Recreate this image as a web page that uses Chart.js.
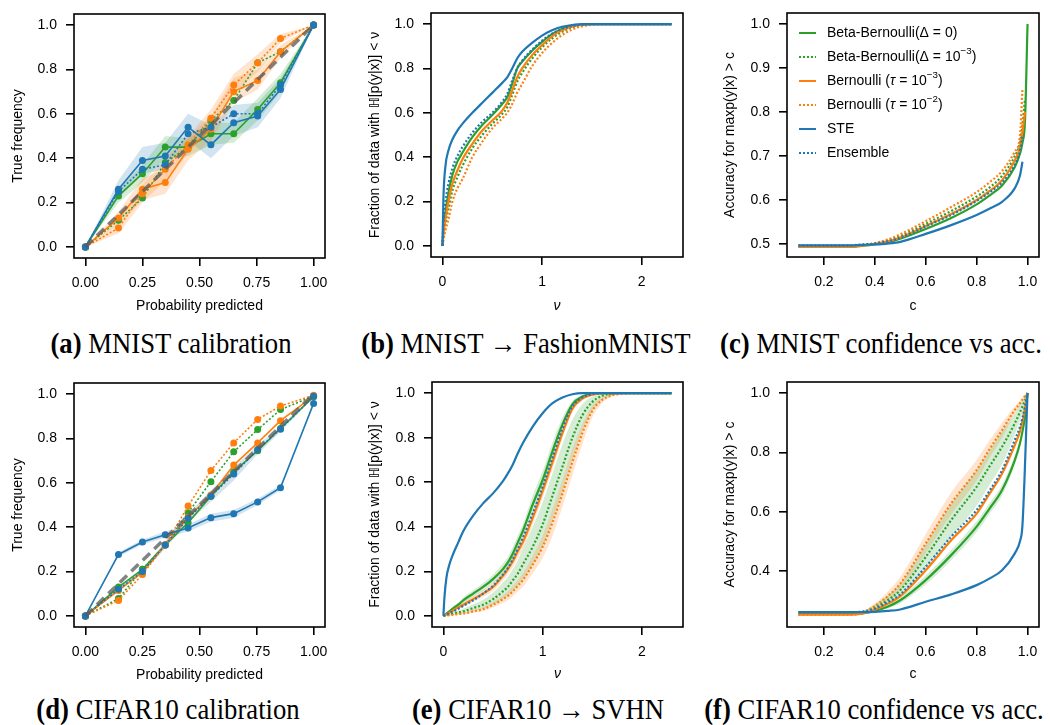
<!DOCTYPE html>
<html>
<head>
<meta charset="utf-8">
<script src="https://cdn.jsdelivr.net/npm/chart.js@4.4.1/dist/chart.umd.min.js"></script>
<style>
  html, body { margin: 0; padding: 0; background: #fff; }
  body { width: 1050px; height: 725px; position: relative; overflow: hidden; }
  .panel { position: absolute; }
  .caption {
    position: absolute; transform: translateX(-50%) scaleX(0.92); white-space: nowrap;
    font-family: 'Liberation Serif', 'Times New Roman', serif; font-size: 29px; line-height: 30px; color: #000;
  }
</style>
</head>
<body>
<div class="panel" id="p-a"><canvas id="c-a"></canvas></div>
<div class="panel" id="p-b"><canvas id="c-b"></canvas></div>
<div class="panel" id="p-c"><canvas id="c-c"></canvas></div>
<div class="panel" id="p-d"><canvas id="c-d"></canvas></div>
<div class="panel" id="p-e"><canvas id="c-e"></canvas></div>
<div class="panel" id="p-f"><canvas id="c-f"></canvas></div>

<div class="caption" style="left:171px; top:328px"><b>(a)</b> MNIST calibration</div>
<div class="caption" style="left:526px; top:328px"><b>(b)</b> MNIST → FashionMNIST</div>
<div class="caption" style="left:881px; top:328px"><b>(c)</b> MNIST confidence vs acc.</div>
<div class="caption" style="left:168px; top:694px"><b>(d)</b> CIFAR10 calibration</div>
<div class="caption" style="left:538px; top:694px"><b>(e)</b> CIFAR10 → SVHN</div>
<div class="caption" style="left:874px; top:694px"><b>(f)</b> CIFAR10 confidence vs acc.</div>

<script>
const BLUE = '#1f77b4';
const ORANGE = '#ff7f0e';
const GREEN = '#2ca02c';

// ---- reliability diagrams: bin centres and true frequency per bin ----
const calBins = [0, 0.145, 0.25, 0.35, 0.45, 0.55, 0.65, 0.755, 0.855, 1.0];
const diagX = [0, 1];
const diagY = [0, 1];

const mnistCalBB0 = [0, 0.23, 0.33, 0.45, 0.45, 0.51, 0.51, 0.62, 0.74, 1.0];
const mnistCalBB3 = [0, 0.12, 0.22, 0.38, 0.45, 0.57, 0.66, 0.83, 0.88, 1.0];
const mnistCalB3 = [0, 0.13, 0.26, 0.29, 0.44, 0.53, 0.70, 0.75, 0.88, 1.0];
const mnistCalB2 = [0, 0.085, 0.24, 0.35, 0.46, 0.58, 0.73, 0.83, 0.94, 1.0];
const mnistCalSTE = [0, 0.26, 0.39, 0.41, 0.54, 0.46, 0.56, 0.59, 0.71, 1.0];
const mnistCalEns = [0, 0.25, 0.35, 0.37, 0.51, 0.54, 0.60, 0.60, 0.73, 1.0];
const mnistCalSTELo = [0, 0.22, 0.33, 0.35, 0.48, 0.40, 0.50, 0.54, 0.67, 1.0];
const mnistCalSTEHi = [0, 0.30, 0.45, 0.47, 0.60, 0.55, 0.64, 0.65, 0.76, 1.0];
const mnistCalBB0Lo = [0, 0.20, 0.29, 0.40, 0.41, 0.46, 0.47, 0.57, 0.70, 1.0];
const mnistCalBB0Hi = [0, 0.26, 0.37, 0.50, 0.49, 0.56, 0.56, 0.67, 0.78, 1.0];
const mnistCalB3Lo = [0, 0.10, 0.21, 0.24, 0.39, 0.48, 0.65, 0.71, 0.85, 1.0];
const mnistCalB3Hi = [0, 0.16, 0.31, 0.35, 0.49, 0.59, 0.76, 0.80, 0.91, 1.0];
const mnistCalB2Lo = [0, 0.06, 0.20, 0.30, 0.42, 0.54, 0.69, 0.79, 0.92, 1.0];
const mnistCalB2Hi = [0, 0.11, 0.28, 0.40, 0.50, 0.62, 0.78, 0.87, 0.96, 1.0];

const cifarCalBB0 = [0, 0.13, 0.21, 0.32, 0.42, 0.54, 0.65, 0.745, 0.845, 0.988];
const cifarCalBB3 = [0, 0.078, 0.21, 0.32, 0.465, 0.605, 0.74, 0.84, 0.93, 0.991];
const cifarCalB3 = [0, 0.115, 0.197, 0.32, 0.445, 0.545, 0.68, 0.78, 0.88, 0.991];
const cifarCalB2 = [0, 0.07, 0.187, 0.32, 0.495, 0.655, 0.78, 0.886, 0.946, 0.995];
const cifarCalSTE = [0, 0.277, 0.333, 0.366, 0.396, 0.443, 0.461, 0.514, 0.578, 0.958];
const cifarCalEns = [0, 0.12, 0.2, 0.32, 0.44, 0.54, 0.64, 0.75, 0.842, 0.99];
const cifarCalSTELo = [0, 0.268, 0.322, 0.352, 0.38, 0.425, 0.443, 0.5, 0.566, 0.955];
const cifarCalSTEHi = [0, 0.286, 0.344, 0.38, 0.412, 0.461, 0.479, 0.528, 0.59, 0.961];
const cifarCalEnsLo = [0, 0.11, 0.19, 0.305, 0.42, 0.515, 0.61, 0.73, 0.83, 0.985];
const cifarCalEnsHi = [0, 0.13, 0.21, 0.335, 0.46, 0.565, 0.67, 0.77, 0.855, 0.995];

// ---- entropy CDFs on out-of-distribution data ----
const nuGrid = [0, 0.01, 0.03, 0.06, 0.1, 0.15, 0.2, 0.3, 0.4, 0.5, 0.6, 0.65, 0.7, 0.75, 0.8,
  0.9, 1.0, 1.1, 1.2, 1.3, 1.4, 1.5, 1.6, 1.7, 1.8, 1.9, 2.0, 2.3];

const mnistOodBB0 = [0, 0.07, 0.15, 0.24, 0.32, 0.38, 0.42, 0.49, 0.545, 0.59, 0.64, 0.67, 0.73, 0.8, 0.83,
  0.88, 0.92, 0.955, 0.978, 0.992, 0.998, 1, 1, 1, 1, 1, 1, 1];
const mnistOodBB3 = [0, 0.04, 0.1, 0.17, 0.25, 0.31, 0.36, 0.44, 0.5, 0.55, 0.595, 0.625, 0.68, 0.74, 0.78,
  0.845, 0.895, 0.935, 0.965, 0.985, 0.995, 1, 1, 1, 1, 1, 1, 1];
const mnistOodB3 = [0, 0.05, 0.12, 0.2, 0.28, 0.34, 0.39, 0.46, 0.52, 0.565, 0.61, 0.645, 0.7, 0.76, 0.8,
  0.86, 0.905, 0.945, 0.972, 0.988, 0.997, 1, 1, 1, 1, 1, 1, 1];
const mnistOodB2 = [0, 0.03, 0.07, 0.12, 0.2, 0.26, 0.3, 0.4, 0.47, 0.53, 0.575, 0.6, 0.64, 0.69, 0.73,
  0.81, 0.87, 0.915, 0.95, 0.975, 0.99, 0.997, 1, 1, 1, 1, 1, 1];
const mnistOodSTE = [0, 0.22, 0.36, 0.43, 0.48, 0.52, 0.55, 0.60, 0.645, 0.69, 0.735, 0.76, 0.80, 0.845, 0.875,
  0.915, 0.948, 0.972, 0.988, 0.996, 1, 1, 1, 1, 1, 1, 1, 1];
const mnistOodEns = [0, 0.1, 0.2, 0.28, 0.35, 0.405, 0.445, 0.51, 0.56, 0.6, 0.65, 0.685, 0.745, 0.8, 0.835,
  0.885, 0.925, 0.957, 0.978, 0.991, 0.997, 1, 1, 1, 1, 1, 1, 1];

const cifarOodBB0 = [0, 0.003, 0.01, 0.02, 0.035, 0.05, 0.07, 0.1, 0.13, 0.165, 0.21, 0.24, 0.28, 0.33, 0.38,
  0.5, 0.61, 0.74, 0.86, 0.95, 0.985, 0.997, 1, 1, 1, 1, 1, 1];
const cifarOodBB3 = [0, 0.001, 0.003, 0.006, 0.01, 0.015, 0.02, 0.035, 0.05, 0.075, 0.11, 0.13, 0.16, 0.19, 0.23,
  0.31, 0.41, 0.54, 0.67, 0.8, 0.9, 0.96, 0.988, 0.998, 1, 1, 1, 1];
const cifarOodB3 = [0, 0.002, 0.007, 0.014, 0.025, 0.038, 0.05, 0.075, 0.1, 0.13, 0.18, 0.21, 0.245, 0.29, 0.33,
  0.44, 0.56, 0.69, 0.82, 0.93, 0.975, 0.993, 1, 1, 1, 1, 1, 1];
const cifarOodB2 = [0, 0, 0.001, 0.003, 0.005, 0.008, 0.01, 0.02, 0.03, 0.05, 0.075, 0.09, 0.11, 0.135, 0.16,
  0.23, 0.31, 0.42, 0.55, 0.69, 0.82, 0.92, 0.97, 0.99, 0.998, 1, 1, 1];
const cifarOodSTE = [0, 0.08, 0.17, 0.23, 0.28, 0.33, 0.38, 0.45, 0.505, 0.55, 0.605, 0.64, 0.68, 0.73, 0.775,
  0.85, 0.91, 0.955, 0.98, 0.995, 1, 1, 1, 1, 1, 1, 1, 1];
const cifarOodEns = [0, 0.002, 0.006, 0.012, 0.02, 0.032, 0.045, 0.07, 0.1, 0.135, 0.185, 0.215, 0.255, 0.3, 0.35,
  0.46, 0.58, 0.71, 0.84, 0.94, 0.98, 0.995, 1, 1, 1, 1, 1, 1];
const cifarOodBB0Lo = [0, 0.002, 0.007, 0.015, 0.027, 0.04, 0.057, 0.085, 0.113, 0.145, 0.185, 0.215, 0.25, 0.3, 0.35,
  0.46, 0.57, 0.7, 0.83, 0.93, 0.975, 0.994, 1, 1, 1, 1, 1, 1];
const cifarOodBB0Hi = [0, 0.004, 0.013, 0.025, 0.043, 0.06, 0.083, 0.115, 0.147, 0.185, 0.235, 0.265, 0.31, 0.36, 0.41,
  0.54, 0.65, 0.78, 0.89, 0.965, 0.99, 0.999, 1, 1, 1, 1, 1, 1];
const cifarOodB3Lo = [0, 0.001, 0.005, 0.01, 0.019, 0.03, 0.04, 0.062, 0.085, 0.112, 0.158, 0.186, 0.218, 0.26, 0.3,
  0.41, 0.53, 0.66, 0.8, 0.915, 0.968, 0.99, 1, 1, 1, 1, 1, 1];
const cifarOodB3Hi = [0, 0.003, 0.009, 0.018, 0.031, 0.046, 0.06, 0.088, 0.115, 0.148, 0.202, 0.234, 0.272, 0.32, 0.36,
  0.47, 0.59, 0.72, 0.84, 0.945, 0.982, 0.996, 1, 1, 1, 1, 1, 1];
const cifarOodBB3Lo = [0, 0, 0.001, 0.003, 0.005, 0.008, 0.012, 0.022, 0.033, 0.05, 0.075, 0.09, 0.11, 0.135, 0.165,
  0.23, 0.31, 0.43, 0.56, 0.7, 0.83, 0.92, 0.97, 0.99, 0.998, 1, 1, 1];
const cifarOodBB3Hi = [0, 0.002, 0.006, 0.01, 0.016, 0.024, 0.032, 0.052, 0.072, 0.105, 0.15, 0.175, 0.21, 0.25, 0.3,
  0.4, 0.51, 0.64, 0.77, 0.88, 0.95, 0.985, 0.996, 1, 1, 1, 1, 1];
const cifarOodB2Lo = [0, 0, 0, 0.001, 0.003, 0.005, 0.007, 0.014, 0.022, 0.038, 0.058, 0.07, 0.088, 0.11, 0.13,
  0.19, 0.26, 0.36, 0.49, 0.63, 0.77, 0.89, 0.955, 0.985, 0.996, 1, 1, 1];
const cifarOodB2Hi = [0, 0.001, 0.002, 0.005, 0.008, 0.012, 0.015, 0.027, 0.04, 0.063, 0.092, 0.11, 0.135, 0.16, 0.19,
  0.27, 0.36, 0.48, 0.61, 0.75, 0.86, 0.945, 0.98, 0.995, 1, 1, 1, 1];

// ---- accuracy above a confidence threshold c ----
const confGrid = [0.1, 0.2, 0.3, 0.35, 0.4, 0.45, 0.5, 0.6, 0.7, 0.8, 0.85, 0.9, 0.95, 0.97, 0.98, 0.99, 1.0];

const mnistConfBB0 = [0.494, 0.494, 0.494, 0.496, 0.499, 0.504, 0.512, 0.534, 0.559, 0.59, 0.61, 0.633, 0.675, 0.705, 0.73, 0.78, 1.0];
const mnistConfBB3 = [0.494, 0.494, 0.494, 0.497, 0.501, 0.508, 0.518, 0.546, 0.575, 0.608, 0.628, 0.655, 0.7, 0.73, 0.77, 0.83, null];
const mnistConfB3 = [0.494, 0.494, 0.494, 0.496, 0.5, 0.506, 0.515, 0.541, 0.568, 0.6, 0.62, 0.645, 0.69, 0.72, 0.755, 0.8, null];
const mnistConfB2 = [0.494, 0.494, 0.494, 0.497, 0.502, 0.51, 0.522, 0.552, 0.584, 0.618, 0.64, 0.666, 0.71, 0.745, 0.85, null, null];
const mnistConfSTE = [0.497, 0.497, 0.497, 0.498, 0.499, 0.501, 0.505, 0.523, 0.543, 0.566, 0.58, 0.596, 0.627, 0.655, 0.687, null, null];
const mnistConfEns = [0.497, 0.497, 0.497, 0.499, 0.501, 0.506, 0.514, 0.54, 0.566, 0.598, 0.617, 0.64, 0.68, 0.71, 0.745, null, null];

const cifarConfBB0 = [0.256, 0.256, 0.256, 0.258, 0.266, 0.28, 0.302, 0.37, 0.454, 0.55, 0.61, 0.673, 0.774, 0.83, 0.87, 0.92, 1.0];
const cifarConfBB3 = [0.255, 0.255, 0.255, 0.26, 0.278, 0.302, 0.336, 0.448, 0.572, 0.684, 0.752, 0.819, 0.898, 0.935, 0.955, 0.975, 1.0];
const cifarConfB3 = [0.254, 0.254, 0.254, 0.257, 0.27, 0.29, 0.316, 0.403, 0.504, 0.594, 0.66, 0.729, 0.825, 0.87, 0.905, 0.95, 1.0];
const cifarConfB2 = [0.253, 0.253, 0.253, 0.26, 0.283, 0.315, 0.358, 0.493, 0.628, 0.74, 0.81, 0.875, 0.943, 0.965, 0.978, 0.99, 1.0];
const cifarConfSTE = [0.262, 0.262, 0.262, 0.262, 0.263, 0.266, 0.271, 0.297, 0.322, 0.353, 0.375, 0.403, 0.46, 0.5, 0.555, null, 1.0];
const cifarConfEns = [0.262, 0.262, 0.262, 0.264, 0.274, 0.295, 0.322, 0.415, 0.516, 0.606, 0.67, 0.74, 0.842, 0.885, 0.915, 0.955, 1.0];
const cifarConfBB0Lo = [0.255, 0.255, 0.255, 0.257, 0.263, 0.274, 0.292, 0.355, 0.437, 0.532, 0.592, 0.655, 0.758, 0.815, 0.858, 0.91, 1.0];
const cifarConfBB0Hi = [0.257, 0.257, 0.257, 0.26, 0.27, 0.287, 0.312, 0.385, 0.471, 0.568, 0.628, 0.691, 0.79, 0.845, 0.882, 0.93, 1.0];
const cifarConfBB3Lo = [0.254, 0.254, 0.254, 0.257, 0.27, 0.29, 0.318, 0.41, 0.515, 0.62, 0.69, 0.76, 0.86, 0.905, 0.93, 0.96, 1.0];
const cifarConfBB3Hi = [0.256, 0.256, 0.256, 0.264, 0.288, 0.318, 0.358, 0.49, 0.625, 0.74, 0.805, 0.87, 0.93, 0.96, 0.975, 0.99, 1.0];
const cifarConfB2Lo = [0.252, 0.252, 0.252, 0.257, 0.275, 0.3, 0.335, 0.46, 0.59, 0.705, 0.78, 0.85, 0.93, 0.955, 0.97, 0.985, 1.0];
const cifarConfB2Hi = [0.255, 0.255, 0.255, 0.264, 0.292, 0.33, 0.38, 0.525, 0.665, 0.775, 0.84, 0.9, 0.955, 0.975, 0.985, 0.995, 1.0];

// ---- tick labels ----
const unitTicks2 = [0, 0.25, 0.5, 0.75, 1.0];
const fracTicks = [0, 0.2, 0.4, 0.6, 0.8, 1.0];
const nuTicks = [0, 1, 2];
const confTicks = [0.2, 0.4, 0.6, 0.8, 1.0];
const mnistAccTicks = [0.5, 0.6, 0.7, 0.8, 0.9, 1.0];
const cifarAccTicks = [0.4, 0.6, 0.8, 1.0];

// methods in legend order (later ones end up drawn on top)
const methods = [
  { key: 'bb0', label: 'Beta-Bernoulli(Δ = 0)', color: GREEN, dotted: false },
  { key: 'bb3', label: 'Beta-Bernoulli(Δ = 10⁻³)', color: GREEN, dotted: true },
  { key: 'b3', label: 'Bernoulli (τ = 10⁻³)', color: ORANGE, dotted: false },
  { key: 'b2', label: 'Bernoulli (τ = 10⁻²)', color: ORANGE, dotted: true },
  { key: 'ste', label: 'STE', color: BLUE, dotted: false },
  { key: 'ens', label: 'Ensemble', color: BLUE, dotted: true },
];

// legend text with superscripts / italic symbols
const legendText = {
  bb0: [{ t: 'Beta-Bernoulli(Δ = 0)' }],
  bb3: [{ t: 'Beta-Bernoulli(Δ = 10' }, { t: '−3', sup: true }, { t: ')' }],
  b3: [{ t: 'Bernoulli (' }, { t: 'τ', it: true }, { t: ' = 10' }, { t: '−3', sup: true }, { t: ')' }],
  b2: [{ t: 'Bernoulli (' }, { t: 'τ', it: true }, { t: ' = 10' }, { t: '−2', sup: true }, { t: ')' }],
  ste: [{ t: 'STE' }],
  ens: [{ t: 'Ensemble' }],
};

const FONT = "'Liberation Sans', Arial, sans-serif";
Chart.defaults.font.family = FONT;
Chart.defaults.font.size = 14;
Chart.defaults.color = '#000';

function pts(xs, ys) {
  return xs.map((x, i) => ({ x, y: ys[i] }));
}

function rgba(hex, a) {
  const n = parseInt(hex.slice(1), 16);
  return `rgba(${n >> 16},${(n >> 8) & 255},${n & 255},${a})`;
}

function drawParts(ctx, x, y, parts, size) {
  parts.forEach(p => {
    const fs = p.sup ? size * 0.7 : size;
    ctx.font = `${p.it ? 'italic ' : ''}${fs}px ${FONT}`;
    ctx.fillText(p.t, x, p.sup ? y - size * 0.38 : y);
    x += ctx.measureText(p.t).width;
  });
}

// full box around the plot area, like matplotlib spines
const frame = {
  id: 'frame',
  afterDraw(chart) {
    const { ctx, chartArea: a } = chart;
    ctx.save();
    ctx.strokeStyle = '#000';
    ctx.lineWidth = 1.6;
    ctx.strokeRect(a.left, a.top, a.right - a.left, a.bottom - a.top);
    ctx.restore();
  }
};

// legend drawn inside the plot area, top-left
const insetLegend = {
  id: 'insetLegend',
  afterDatasetsDraw(chart, args, opts) {
    if (!opts || !opts.show) return;
    const { ctx, chartArea: a } = chart;
    ctx.save();
    ctx.textBaseline = 'middle';
    ctx.fillStyle = '#000';
    methods.forEach((m, i) => {
      const ds = chart.data.datasets.find(d => d.key === m.key);
      const y = a.top + 20 + i * 24;
      ctx.strokeStyle = ds.borderColor;
      ctx.lineWidth = 2;
      ctx.setLineDash(ds.borderDash);
      ctx.beginPath();
      ctx.moveTo(a.left + 12, y);
      ctx.lineTo(a.left + 29, y);
      ctx.stroke();
      ctx.setLineDash([]);
      drawParts(ctx, a.left + 40, y, legendText[m.key], 14);
    });
    ctx.restore();
  }
};

function buildDatasets(cfg) {
  const list = [];
  const mode = cfg.smooth ? 'monotone' : 'default';
  (cfg.bands || []).forEach(([key, lo, hi]) => {
    const m = methods.find(mm => mm.key === key);
    const common = { isBand: true, label: '', pointRadius: 0, borderWidth: 0, cubicInterpolationMode: mode, spanGaps: true };
    list.push({ ...common, data: pts(cfg.xs, lo), fill: false });
    list.push({ ...common, data: pts(cfg.xs, hi), fill: '-1', backgroundColor: rgba(m.color, 0.2) });
  });
  methods.forEach(m => {
    list.push({
      label: m.label,
      key: m.key,
      data: pts(cfg.xs, cfg.lines[m.key]),
      borderColor: m.color,
      backgroundColor: m.color,
      borderWidth: cfg.markers ? 1.6 : 2.2,
      borderDash: m.dotted ? [2, 2] : [],
      pointRadius: cfg.markers ? 3.5 : 0,
      pointBorderWidth: 0,
      pointBackgroundColor: m.color,
      cubicInterpolationMode: mode,
      spanGaps: true,
      fill: false,
    });
  });
  if (cfg.diagonal) {
    list.push({
      label: '', isBand: true, data: pts(diagX, diagY),
      borderColor: 'rgba(90,90,90,0.75)', borderWidth: 3.5, borderDash: [10, 6],
      pointRadius: 0, fill: false,
    });
  }
  // first entry at the bottom, last on top
  list.forEach((d, i) => { d.order = list.length - i; });
  return list;
}

function axis(a, dir, size) {
  return {
    type: 'linear',
    min: a.min,
    max: a.max,
    afterBuildTicks: s => { s.ticks = a.ticks.map(v => ({ value: v })); },
    afterFit: s => { if (dir === 'x') s.height = size; else s.width = size; },
    ticks: {
      callback: v => v.toFixed(a.digits),
      padding: 9,
      color: '#000',
      autoSkip: false,
      maxRotation: 0,
    },
    grid: {
      drawOnChartArea: false, drawTicks: true, tickLength: 8,
      tickWidth: 1.6, tickColor: '#000', color: '#000', lineWidth: 1.6,
    },
    border: { display: false },
    title: {
      display: true, text: a.title, color: '#000', padding: 0,
      font: { size: 14, style: a.italic ? 'italic' : 'normal' },
    },
  };
}

const PAD_TOP = 20;

function makePanel(id, cfg) {
  const [bl, bt, br, bb] = cfg.box;
  const left = Math.round(cfg.yTitleX - 8.4);
  const top = bt - PAD_TOP;
  const right = br + 12;
  const bottom = Math.round(cfg.xTitleY + 8.4);
  const wrap = document.getElementById('p-' + id);
  wrap.style.left = left + 'px';
  wrap.style.top = top + 'px';
  wrap.style.width = (right - left) + 'px';
  wrap.style.height = (bottom - top) + 'px';

  new Chart(document.getElementById('c-' + id), {
    type: 'line',
    data: { datasets: buildDatasets(cfg) },
    options: {
      responsive: true,
      maintainAspectRatio: false,
      animation: false,
      devicePixelRatio: 1,
      layout: { padding: { top: PAD_TOP, right: 12, left: 0, bottom: 0 } },
      scales: {
        x: axis(cfg.x, 'x', bottom - bb),
        y: axis(cfg.y, 'y', bl - left),
      },
      plugins: {
        legend: { display: false },
        tooltip: { enabled: false },
        insetLegend: { show: !!cfg.legend },
      },
    },
    plugins: [frame, insetLegend],
  });
}

const calAxisX = { min: -0.05, max: 1.05, ticks: unitTicks2, digits: 2, title: 'Probability predicted' };
const calAxisY = { min: -0.05, max: 1.05, ticks: fracTicks, digits: 1, title: 'True frequency' };
const nuAxisX = { min: -0.115, max: 2.415, ticks: nuTicks, digits: 0, title: 'ν', italic: true };
const cdfAxisY = { min: -0.05, max: 1.05, ticks: fracTicks, digits: 1, title: 'Fraction of data with ℍ[p(y|x)] < ν' };
const confAxisX = { min: 0.055, max: 1.045, ticks: confTicks, digits: 1, title: 'c' };
const accTitle = 'Accuracy for maxp(y|x) > c';

makePanel('a', {
  box: [74, 14, 325, 258], yTitleX: 18, xTitleY: 307,
  xs: calBins, markers: true, diagonal: true,
  lines: { bb0: mnistCalBB0, bb3: mnistCalBB3, b3: mnistCalB3, b2: mnistCalB2, ste: mnistCalSTE, ens: mnistCalEns },
  bands: [['ste', mnistCalSTELo, mnistCalSTEHi], ['bb0', mnistCalBB0Lo, mnistCalBB0Hi],
          ['b3', mnistCalB3Lo, mnistCalB3Hi], ['b2', mnistCalB2Lo, mnistCalB2Hi]],
  x: calAxisX, y: calAxisY,
});

makePanel('b', {
  box: [431, 13, 683, 257], yTitleX: 375, xTitleY: 307,
  xs: nuGrid, smooth: true,
  lines: { bb0: mnistOodBB0, bb3: mnistOodBB3, b3: mnistOodB3, b2: mnistOodB2, ste: mnistOodSTE, ens: mnistOodEns },
  x: nuAxisX, y: cdfAxisY,
});

makePanel('c', {
  box: [787, 13, 1039, 257], yTitleX: 730, xTitleY: 307,
  xs: confGrid, smooth: true, legend: true,
  lines: { bb0: mnistConfBB0, bb3: mnistConfBB3, b3: mnistConfB3, b2: mnistConfB2, ste: mnistConfSTE, ens: mnistConfEns },
  x: confAxisX,
  y: { min: 0.4705, max: 1.025, ticks: mnistAccTicks, digits: 1, title: accTitle },
});

makePanel('d', {
  box: [74, 383, 325, 627], yTitleX: 18, xTitleY: 676,
  xs: calBins, markers: true, diagonal: true,
  lines: { bb0: cifarCalBB0, bb3: cifarCalBB3, b3: cifarCalB3, b2: cifarCalB2, ste: cifarCalSTE, ens: cifarCalEns },
  bands: [['ste', cifarCalSTELo, cifarCalSTEHi], ['ens', cifarCalEnsLo, cifarCalEnsHi]],
  x: calAxisX, y: calAxisY,
});

makePanel('e', {
  box: [432, 382, 683, 627], yTitleX: 375, xTitleY: 675,
  xs: nuGrid, smooth: true,
  lines: { bb0: cifarOodBB0, bb3: cifarOodBB3, b3: cifarOodB3, b2: cifarOodB2, ste: cifarOodSTE, ens: cifarOodEns },
  bands: [['bb3', cifarOodBB3Lo, cifarOodBB3Hi], ['b2', cifarOodB2Lo, cifarOodB2Hi],
          ['b3', cifarOodB3Lo, cifarOodB3Hi], ['bb0', cifarOodBB0Lo, cifarOodBB0Hi]],
  x: nuAxisX, y: cdfAxisY,
});

makePanel('f', {
  box: [787, 382, 1039, 627], yTitleX: 730, xTitleY: 675,
  xs: confGrid, smooth: true,
  lines: { bb0: cifarConfBB0, bb3: cifarConfBB3, b3: cifarConfB3, b2: cifarConfB2, ste: cifarConfSTE, ens: cifarConfEns },
  bands: [['b2', cifarConfB2Lo, cifarConfB2Hi], ['bb3', cifarConfBB3Lo, cifarConfBB3Hi], ['bb0', cifarConfBB0Lo, cifarConfBB0Hi]],
  x: confAxisX,
  y: { min: 0.212, max: 1.037, ticks: cifarAccTicks, digits: 1, title: accTitle },
});
</script>
</body>
</html>
